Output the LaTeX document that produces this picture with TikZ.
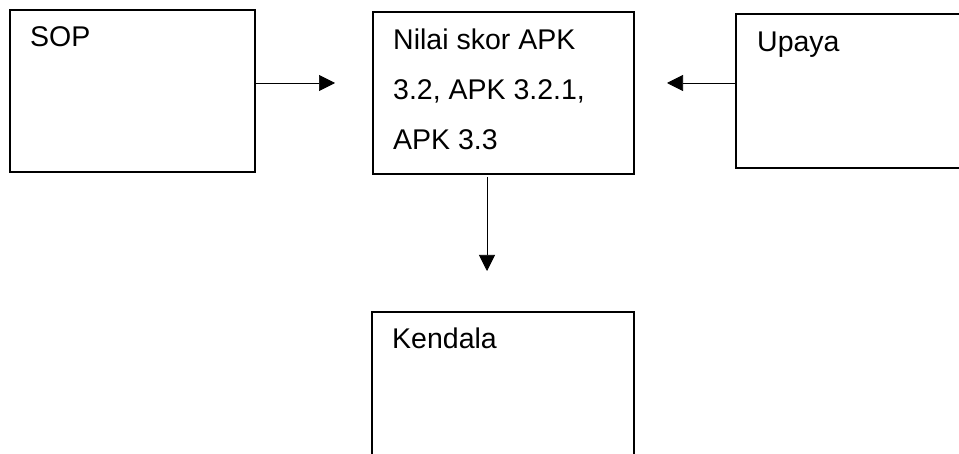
\documentclass[tikz,border=0pt]{standalone}
\usepackage{fontspec}
\setmainfont{Liberation Sans}
\usetikzlibrary{arrows.meta}
\begin{document}
\begin{tikzpicture}[x=1pt,y=-1pt,
  box/.style={draw=black, line width=1.6pt, anchor=north west, inner sep=0pt},
  lbl/.style={anchor=base west, inner sep=0pt, font=\fontsize{28.5}{34}\selectfont},
  arr/.style={draw=black, line width=0.7pt, -{Triangle[length=16pt,width=16pt]}}]
\clip (0,0) rectangle (959,454);
\fill[white] (0,0) rectangle (959,454);
% boxes
\node[box, minimum width=245pt, minimum height=162pt] (sop) at (9,9) {};
\node[box, minimum width=261pt, minimum height=162pt] (nilai) at (372,11) {};
\node[box, minimum width=300pt, minimum height=154pt] (upaya) at (735,13) {};
\node[box, minimum width=262pt, minimum height=200pt] (kendala) at (371,311) {};
% texts
\node[lbl] (sopt) at ([shift={(21,38)}]sop.north west) {SOP};
\node[lbl] (n1) at ([shift={(21,39)}]nilai.north west) {Nilai skor APK};
\node[lbl] (n2) at ([shift={(21,89)}]nilai.north west) {3.2, APK 3.2.1,};
\node[lbl] (n3) at ([shift={(21,139)}]nilai.north west) {APK 3.3};
\node[lbl] (upt) at ([shift={(22,39)}]upaya.north west) {Upaya};
\node[lbl] (kt) at ([shift={(21,38)}]kendala.north west) {Kendala};
% connectors
\coordinate (a1) at (335,83);
\draw[arr] (sop.east |- a1) -- (a1);
\coordinate (a2) at (667,83);
\draw[arr] (upaya.west |- a2) -- (a2);
\coordinate (a3s) at (487,177);
\coordinate (a3) at (487,271);
\draw[arr] (a3s) -- (a3);
\end{tikzpicture}
\end{document}
